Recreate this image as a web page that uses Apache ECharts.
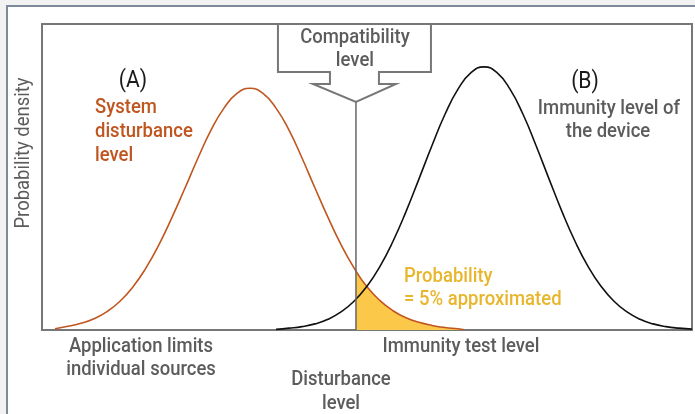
<!DOCTYPE html>
<html>
<head>
<meta charset="utf-8">
<script src="https://cdn.jsdelivr.net/npm/echarts@6/dist/echarts.min.js"></script>
<style>
  html, body { margin: 0; padding: 0; background: #f2f2f2; }
  #main { width: 695px; height: 414px; }
</style>
</head>
<body>
<div id="main"></div>
<script>
// curves, x and y on a 0-100 scale
var disturbance = [[2,0.4],[4,1.2],[6,2.2],[8,3.7],[10,6.0],[12,9.4],[14,14.1],[16,20.3],[18,27.9],[20,36.8],[22,46.4],[24,56.2],[26,65.3],[28,72.5],[30,77.3],[32,79],[34,77.3],[36,72.5],[38,65.3],[40,56.2],[42,46.4],[44,36.8],[46,27.9],[48,20.3],[50,14.1],[52,9.6],[54,6.3],[56,4.0],[58,2.5],[60,1.5],[62,0.8],[64,0.4],[65,0.1]];
var immunity = [[36,0.2],[38,0.6],[40,1.1],[42,2.0],[44,3.5],[46,5.9],[48,9.4],[50,14.3],[52,20.8],[54,29.0],[56,38.7],[58,49.4],[60,60.3],[62,70.5],[64,78.7],[66,84.1],[68,86],[70,84.1],[72,78.7],[74,70.5],[76,60.3],[78,49.4],[80,38.7],[82,29.0],[84,20.8],[86,14.3],[88,9.4],[90,5.9],[92,3.5],[94,2.0],[96,1.1],[98,0.6],[100,0.3]];
var compatX = 48.3;
var compatTop = 74.5;
var tailStart = [48.3, 19.5];

var tail = [tailStart].concat(disturbance.filter(function (p) { return p[0] > compatX; }));

var font = "Roboto, 'Liberation Sans', sans-serif";
var gray = "#5c5c5c";

// condensed look: Roboto squeezed sideways
function label(text, x, y, color, align, size, rot, weight) {
  return {
    type: "text",
    x: x,
    y: y,
    rotation: rot || 0,
    scaleX: 0.88,
    z: 50,
    style: {
      text: text,
      x: 0,
      y: 0,
      fill: color,
      font: (weight || 500) + " " + (size || 21) + "px " + font,
      textAlign: align || "center",
      textVerticalAlign: "middle"
    }
  };
}

var myChart = echarts.init(document.getElementById("main"));
myChart.setOption({
  backgroundColor: "#f2f2f2",
  animation: false,
  grid: {
    left: 42,
    top: 24,
    width: 650,
    height: 306,
    show: true,
    backgroundColor: "#fff",
    borderColor: "#777",
    borderWidth: 2
  },
  xAxis: {
    type: "value",
    min: 0,
    max: 100,
    axisLine: { show: false },
    axisTick: { show: false },
    axisLabel: { show: false },
    splitLine: { show: false }
  },
  yAxis: {
    type: "value",
    min: 0,
    max: 100,
    axisLine: { show: false },
    axisTick: { show: false },
    axisLabel: { show: false },
    splitLine: { show: false }
  },
  series: [
    {
      type: "line",
      data: tail,
      smooth: true,
      symbol: "none",
      lineStyle: { width: 0 },
      areaStyle: { color: "#fcc84a", opacity: 1 },
      z: 1
    },
    {
      type: "line",
      data: disturbance,
      smooth: true,
      symbol: "none",
      lineStyle: { color: "#c0561f", width: 1.6 },
      z: 3
    },
    {
      type: "line",
      data: immunity,
      smooth: true,
      symbol: "none",
      lineStyle: { color: "#111", width: 1.6 },
      z: 3
    },
    {
      type: "line",
      data: [[compatX, 0], [compatX, compatTop]],
      symbol: "none",
      lineStyle: { color: "#666", width: 1.5 },
      z: 4
    }
  ]
});

var tip = myChart.convertToPixel({ gridIndex: 0 }, [compatX, compatTop]);
var tx = tip[0], ty = tip[1];
var callout = [
  [tx - 78, 24], [tx - 78, ty - 30], [tx - 26, ty - 30], [tx - 26, ty - 18], [tx - 43, ty - 18],
  [tx, ty],
  [tx + 40, ty - 18], [tx + 23, ty - 18], [tx + 23, ty - 30], [tx + 75, ty - 30], [tx + 75, 24]
];

myChart.setOption({
  graphic: [
    {
      type: "rect",
      z: -10,
      silent: true,
      shape: { x: 7, y: 6, width: 720, height: 440 },
      style: { fill: "#fff", stroke: "#7d8a9c", lineWidth: 2 }
    },
    {
      type: "polygon",
      z: 40,
      shape: { points: callout },
      style: { fill: "#fff", stroke: "#777", lineWidth: 2 }
    },
    label("Compatibility", tx - 1, 38, gray),
    label("level", tx - 1, 61, gray),
    label("(A)", 133, 81, "#1a1a1a", "center", 24, 0, 400),
    label("System", 95, 108, "#c0561f", "left"),
    label("disturbance", 95, 132, "#c0561f", "left"),
    label("level", 95, 156, "#c0561f", "left"),
    label("(B)", 585, 82, "#1a1a1a", "center", 24, 0, 400),
    label("Immunity level of", 609, 109, gray),
    label("the device", 608, 132, gray),
    label("Probability", 404, 277, "#e8b62c", "left"),
    label("= 5% approximated", 404, 300, "#e8b62c", "left"),
    label("Application limits", 141, 347, gray),
    label("individual sources", 141, 370, gray),
    label("Immunity test level", 461, 347, gray),
    label("Disturbance", 341, 380, gray),
    label("level", 341, 404, gray),
    label("Probability density", 24, 153, gray, "center", 21, Math.PI / 2, 400)
  ]
});
</script>
</body>
</html>
